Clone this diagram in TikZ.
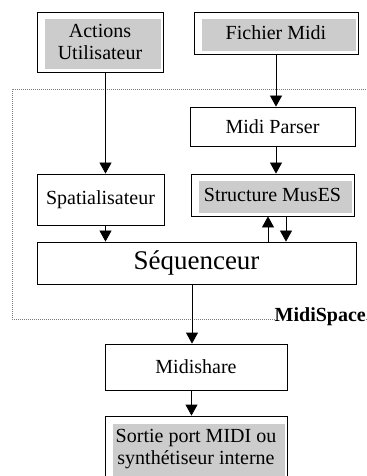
\documentclass[tikz,border=0pt]{standalone}
\usepackage{fontspec}
\setmainfont{Liberation Serif}
\usetikzlibrary{arrows.meta}
\definecolor{BoxGray}{RGB}{204,204,204}
\definecolor{FrameGray}{RGB}{125,125,125}

\tikzset{
  box/.style={draw, fill=white, line width=0.8bp, inner sep=0pt, align=center,
    font=\fontsize{20bp}{22bp}\selectfont},
  graybox/.style={box, path picture={
    \fill[BoxGray] ([shift={(7.5bp,-7.5bp)}]path picture bounding box.north west)
      rectangle ([shift={(-2.5bp,2.5bp)}]path picture bounding box.south east);}},
  arr/.style={-{Triangle[width=12bp,length=11bp]}, line width=0.8bp},
}

\begin{document}
\begin{tikzpicture}[x=1bp, y=-1bp]
  \useasboundingbox (0,0) rectangle (366,476);

  % MidiSpace frame
  \draw[FrameGray, line width=0.8bp, dash pattern=on 1bp off 1bp]
    (372,89) -- (12,89) -- (12,319) -- (372,319);
  \node[font=\fontsize{20bp}{22bp}\selectfont\bfseries, fill=white, inner sep=0pt,
    anchor=base east] (space) at (366,321) {MidiSpace};

  \node[graybox, minimum width=126bp, minimum height=60bp] (act) at (100,42) {Actions\\Utilisateur};
  \node[graybox, minimum width=164bp, minimum height=42bp] (fic) at (276,33) {Fichier Midi};
  \node[box, minimum width=165bp, minimum height=39bp] (parser) at (272.5,126.5) {Midi Parser};
  \node[box, minimum width=127bp, minimum height=51bp] (spat) at (100.5,199.5) {Spatialisateur};
  \node[graybox, minimum width=163bp, minimum height=42bp] (muses) at (272.5,195) {Structure MusES};
  \node[box, minimum width=319bp, minimum height=42bp,
    font=\fontsize{27bp}{30bp}\selectfont] (seq) at (196.5,263) {Séquenceur};
  \node[box, minimum width=182bp, minimum height=46bp] (share) at (196,367) {Midishare};
  \node[graybox, minimum width=182bp, minimum height=66bp] (out) at (196,449)
    {Sortie port MIDI ou\\synthétiseur interne};

  \draw[arr] ([xshift=5.5bp]act.south) -- ([xshift=5.5bp]act.south |- spat.north);
  \draw[arr] (fic.south) -- (fic.south |- parser.north);
  \draw[arr] ([xshift=3.5bp]parser.south) -- ([xshift=3.5bp]parser.south |- muses.north);
  \draw[arr] ([xshift=5bp]spat.south) -- ([xshift=5bp]spat.south |- seq.north);
  \draw[arr] ([xshift=71.5bp]seq.north) -- ([xshift=71.5bp]seq.north |- muses.south);
  \draw[arr] ([xshift=89.5bp]seq.north |- muses.south) -- ([xshift=89.5bp]seq.north);
  \draw[arr] ([xshift=-4.5bp]seq.south) -- ([xshift=-4.5bp]seq.south |- share.north);
  \draw[arr] ([xshift=-4.5bp]share.south) -- ([xshift=-4.5bp]share.south |- out.north);
\end{tikzpicture}
\end{document}
